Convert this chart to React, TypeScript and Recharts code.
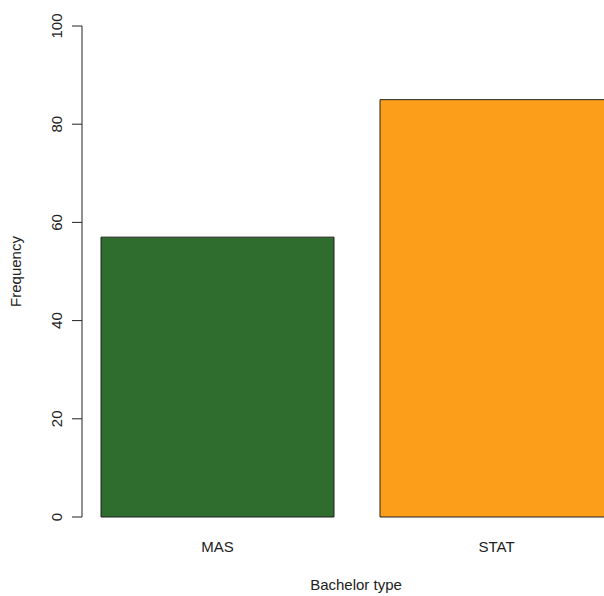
import { BarChart, Bar, XAxis, YAxis, Cell } from "recharts";

const categories = ["MAS", "STAT"];
const frequencies = [57, 85];
const barColors = ["#2f6d2e", "#fd9e1b"];
const yTicks = [0, 20, 40, 60, 80, 100];

const data = categories.map((name, i) => ({ name, value: frequencies[i] }));

const FONT = "'Liberation Sans', Arial, Helvetica, sans-serif";
const INK = "#222";

function YTick(props: any) {
  const { y, payload } = props;
  const x = 62;
  return (
    <text
      x={x}
      y={y}
      transform={`rotate(-90, ${x}, ${y})`}
      textAnchor="middle"
      fontSize={15}
      fontFamily={FONT}
      fill={INK}
    >
      {payload.value}
    </text>
  );
}

function XTick(props: any) {
  const { x, payload } = props;
  return (
    <text x={x} y={552} textAnchor="middle" fontSize={15} fontFamily={FONT} fill={INK}>
      {payload.value}
    </text>
  );
}

function YLabel(props: any) {
  const vb = props.viewBox || { y: 26, height: 491 };
  const cx = 21;
  const cy = vb.y + vb.height / 2;
  return (
    <text
      x={cx}
      y={cy}
      transform={`rotate(-90, ${cx}, ${cy})`}
      textAnchor="middle"
      fontSize={15}
      fontFamily={FONT}
      fill={INK}
    >
      Frequency
    </text>
  );
}

function XLabel() {
  return (
    <text x={356} y={590} textAnchor="middle" fontSize={15} fontFamily={FONT} fill={INK}>
      Bachelor type
    </text>
  );
}

export default function App() {
  return (
    <div
      style={{
        position: "absolute",
        left: 0,
        top: 0,
        width: 604,
        height: 596,
        overflow: "hidden",
        background: "#fff",
      }}
    >
      <BarChart
        width={636}
        height={596}
        data={data}
        margin={{ top: 26, right: 0, bottom: 0, left: 0 }}
      >
        <XAxis
          dataKey="name"
          axisLine={false}
          tickLine={false}
          tick={<XTick />}
          height={79}
          padding={{ left: -4, right: 0 }}
          label={<XLabel />}
        />
        <YAxis
          domain={[0, 100]}
          ticks={yTicks}
          width={82}
          tickSize={10}
          axisLine={{ stroke: INK }}
          tickLine={{ stroke: INK }}
          tick={<YTick />}
          label={<YLabel />}
        />
        <Bar dataKey="value" barSize={233} stroke={INK} strokeWidth={1} isAnimationActive={false}>
          {data.map((d, i) => (
            <Cell key={d.name} fill={barColors[i]} />
          ))}
        </Bar>
      </BarChart>
    </div>
  );
}
